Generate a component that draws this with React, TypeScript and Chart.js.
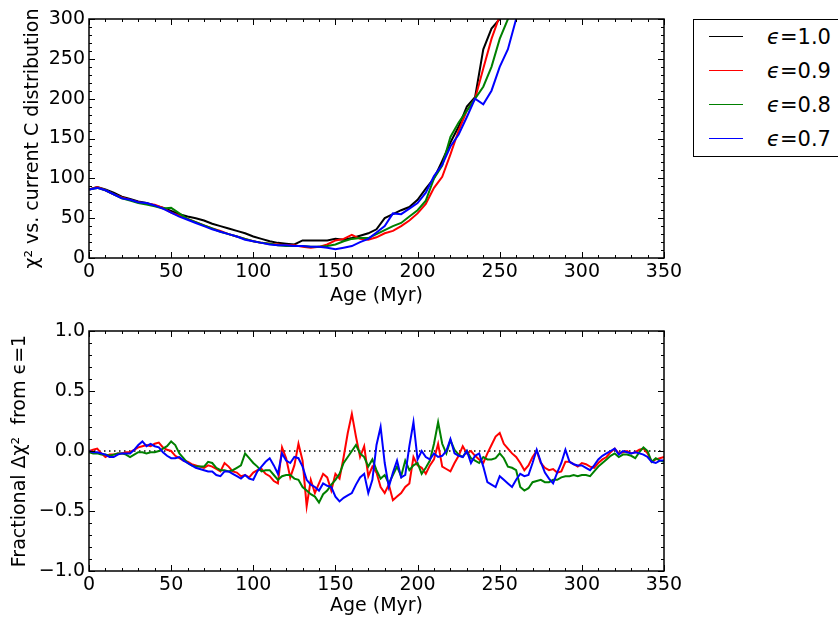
import React, { useEffect, useRef } from "react";
import { Chart, registerables } from "chart.js";

Chart.register(...registerables);

// ---------- DATA ----------
const topAge = [
  0, 5, 10, 15, 20, 25, 30, 35, 40, 45, 50, 55, 60, 65, 70, 75, 80, 85, 90, 95,
  100, 105, 110, 115, 120, 125, 130, 135, 140, 145, 150, 155, 160, 165, 170, 175,
  180, 185, 190, 195, 200, 205, 210, 215, 220, 225, 230, 235, 240, 245, 250, 255, 260,
];
const chiEps10 = [
  86, 89, 86, 82, 77, 74, 71, 69, 66, 63, 59, 55, 52, 50, 47, 43, 40, 37, 34, 31,
  27, 24, 21, 19, 18, 17, 22, 22, 22, 22, 24, 23, 25, 28, 31, 36, 50, 55, 60, 64,
  73, 87, 100, 122, 145, 165, 190, 202, 262, 288, 300, 320, 340,
];
const chiEps09 = [
  86, 89, 85, 80, 76, 73, 70, 68, 67, 63, 57, 53, 49, 45, 41, 37, 34, 30, 27, 24,
  21, 19, 18, 17, 16, 16, 14, 13, 14, 17, 22, 24, 29, 24, 23, 26, 31, 34, 40, 47,
  56, 68, 88, 102, 130, 160, 185, 200, 238, 275, 304, 330, 350,
];
const chiEps08 = [
  86, 88, 85, 80, 75, 72, 69, 67, 65, 62, 63, 56, 49, 45, 41, 37, 33, 30, 27, 24,
  21, 19, 18, 16, 15, 15, 15, 14, 14, 15, 17, 21, 24, 25, 25, 30, 35, 40, 44, 52,
  60, 72, 100, 116, 152, 170, 185, 200, 215, 240, 275, 300, 315,
];
const chiEps07 = [
  86, 88, 85, 80, 75, 73, 70, 69, 66, 62, 57, 52, 48, 44, 40, 36, 33, 30, 27, 23,
  21, 19, 17, 16, 16, 15, 15, 14, 14, 13, 11, 13, 15, 20, 24, 32, 40, 56, 55, 62,
  69, 82, 103, 117, 140, 155, 177, 200, 193, 210, 240, 262, 300,
];

const fracAge = [
  0, 2.5, 5, 7.5, 10, 12.5, 15, 17.5, 20, 22.5,
  25, 27.5, 30, 32.5, 35, 37.5, 40, 42.5, 45, 47.5,
  50, 52.5, 55, 57.5, 60, 62.5, 65, 67.5, 70, 72.5,
  75, 77.5, 80, 82.5, 85, 87.5, 90, 92.5, 95, 97.5,
  100, 102.5, 105, 107.5, 110, 112.5, 115, 117.5, 120, 122.5,
  125, 127.5, 130, 132.5, 135, 137.5, 140, 142.5, 145, 147.5,
  150, 152.5, 155, 157.5, 160, 162.5, 165, 167.5, 170, 172.5,
  175, 177.5, 180, 182.5, 185, 187.5, 190, 192.5, 195, 197.5,
  200, 202.5, 205, 207.5, 210, 212.5, 215, 217.5, 220, 222.5,
  225, 227.5, 230, 232.5, 235, 237.5, 240, 242.5, 245, 247.5,
  250, 252.5, 255, 257.5, 260, 262.5, 265, 267.5, 270, 272.5,
  275, 277.5, 280, 282.5, 285, 287.5, 290, 292.5, 295, 297.5,
  300, 302.5, 305, 307.5, 310, 312.5, 315, 317.5, 320, 322.5,
  325, 327.5, 330, 332.5, 335, 337.5, 340, 342.5, 345, 347.5,
  350,
];
const fracEps10 = [0, 0];
const fracEps10Age = [0, 350];
const fracEps09 = [
  0.00, 0.01, 0.02, -0.02, -0.05, -0.03, -0.03, -0.02, -0.02, -0.01,
  -0.01, 0.01, 0.03, 0.04, 0.05, 0.04, 0.06, 0.07, 0.03, 0.01,
  0.00, -0.04, -0.06, -0.08, -0.09, -0.11, -0.12, -0.13, -0.14, -0.12,
  -0.13, -0.15, -0.17, -0.10, -0.13, -0.17, -0.18, -0.21, -0.20, -0.22,
  -0.18, -0.16, -0.15, -0.19, -0.21, -0.25, -0.27, 0.03, -0.06, -0.22,
  -0.12, 0.06, -0.08, -0.46, -0.24, -0.35, -0.27, -0.19, -0.22, -0.33,
  -0.19, -0.23, -0.05, 0.15, 0.31, 0.12, -0.05, 0.04, -0.21, -0.13,
  -0.18, -0.30, -0.35, -0.28, -0.41, -0.38, -0.35, -0.30, -0.27, -0.05,
  -0.12, -0.14, -0.19, -0.12, -0.07, 0.06, -0.13, -0.15, -0.17, -0.10,
  -0.04, 0.04, -0.02, 0.00, -0.04, -0.07, -0.10, -0.02, 0.05, 0.12,
  0.15, 0.06, 0.02, -0.02, -0.05, -0.10, -0.16, -0.12, -0.05, 0.00,
  -0.10, -0.14, -0.16, -0.15, -0.18, -0.17, -0.09, -0.09, -0.11, -0.13,
  -0.10, -0.11, -0.13, -0.14, -0.10, -0.07, -0.05, -0.01, 0.02, -0.02,
  -0.01, 0.00, -0.02, -0.01, 0.01, 0.02, -0.02, -0.09, -0.07, -0.06,
  -0.05,
];
const fracEps08 = [
  -0.01, -0.02, -0.02, -0.03, -0.03, -0.04, -0.03, -0.02, -0.02, -0.03,
  -0.05, -0.03, -0.01, -0.01, -0.02, -0.01, -0.01, 0.00, 0.02, 0.04,
  0.08, 0.05, -0.02, -0.06, -0.10, -0.12, -0.13, -0.13, -0.13, -0.09,
  -0.10, -0.14, -0.16, -0.16, -0.17, -0.16, -0.14, -0.12, -0.02, -0.06,
  -0.10, -0.13, -0.17, -0.16, -0.16, -0.20, -0.24, -0.21, -0.20, -0.20,
  -0.23, -0.24, -0.30, -0.33, -0.36, -0.38, -0.43, -0.36, -0.33, -0.28,
  -0.24, -0.19, -0.10, -0.05, 0.00, 0.05, -0.02, -0.05, -0.13, -0.07,
  -0.16, -0.23, -0.20, -0.27, -0.20, -0.13, -0.21, -0.08, -0.16, -0.12,
  -0.10, -0.19, -0.14, -0.08, 0.06, 0.24, 0.06, -0.02, 0.09, 0.01,
  -0.03, -0.05, 0.00, -0.06, -0.08, -0.10, -0.05, -0.07, -0.07, -0.06,
  -0.02, -0.06, -0.13, -0.14, -0.16, -0.30, -0.33, -0.31, -0.26, -0.25,
  -0.24, -0.26, -0.26, -0.24, -0.24, -0.22, -0.21, -0.21, -0.20, -0.21,
  -0.20, -0.20, -0.21, -0.17, -0.13, -0.10, -0.07, -0.04, -0.02, -0.05,
  -0.03, -0.03, -0.04, -0.06, -0.01, 0.03, 0.00, -0.09, -0.06, -0.08,
  -0.09,
];
const fracEps07 = [
  0.00, -0.01, -0.01, -0.02, -0.03, -0.05, -0.05, -0.03, -0.02, -0.02,
  -0.02, 0.01, 0.05, 0.08, 0.04, 0.06, 0.04, 0.03, -0.01, -0.04,
  -0.06, -0.06, -0.05, -0.08, -0.10, -0.12, -0.14, -0.15, -0.16, -0.17,
  -0.17, -0.20, -0.21, -0.17, -0.17, -0.19, -0.21, -0.23, -0.20, -0.23,
  -0.24, -0.17, -0.13, -0.09, -0.06, -0.12, -0.19, -0.02, -0.08, -0.10,
  -0.05, -0.06, -0.13, -0.24, -0.28, -0.30, -0.33, -0.27, -0.29, -0.30,
  -0.38, -0.42, -0.39, -0.37, -0.35, -0.28, -0.22, -0.19, -0.35, -0.24,
  0.05, 0.20, -0.10, -0.30, -0.18, -0.08, -0.22, -0.20, 0.04, 0.24,
  -0.07, 0.00, -0.05, -0.07, -0.02, -0.05, -0.04, 0.00, 0.10, -0.02,
  -0.04, -0.05, 0.00, -0.10, -0.04, -0.02, -0.13, -0.26, -0.28, -0.30,
  -0.21, -0.24, -0.27, -0.30, -0.24, -0.19, -0.21, -0.20, -0.10, 0.01,
  -0.09, -0.18, -0.23, -0.27, -0.18, -0.10, 0.01, -0.09, -0.11, -0.12,
  -0.12, -0.14, -0.16, -0.12, -0.07, -0.04, -0.02, 0.00, 0.02, -0.03,
  0.00, -0.01, -0.02, -0.01, -0.02, -0.03, -0.05, -0.09, -0.10, -0.08,
  -0.08,
];

const seriesLabels = ["1.0", "0.9", "0.8", "0.7"];
const seriesColors = ["#000000", "#ff0000", "#008000", "#0000ff"];

// ---------- HELPERS ----------
const FONT = "'DejaVu Sans', 'Liberation Sans', sans-serif";
const FS = 19;
const zip = (xs: number[], ys: number[]) => ys.map((y, i) => ({ x: xs[i], y }));
const fmtMinus = (s: string) => s.replace("-", "\u2212");

const framePlugin = {
  id: "mplFrame",
  afterDraw(chart: any, _args: any, opts: any) {
    const { ctx, chartArea: a, scales } = chart;
    const xs = scales.x;
    const ys = scales.y;
    ctx.save();
    ctx.strokeStyle = "#000";
    ctx.lineWidth = 1;
    const ticks = (min: number, max: number, step: number) => {
      const out: number[] = [];
      const n = Math.round((max - min) / step);
      for (let i = 0; i <= n; i++) out.push(min + i * step);
      return out;
    };
    const drawX = (vals: number[], len: number) => {
      vals.forEach((v) => {
        const p = Math.round(xs.getPixelForValue(v)) + 0.5;
        ctx.beginPath();
        ctx.moveTo(p, a.bottom);
        ctx.lineTo(p, a.bottom - len);
        ctx.moveTo(p, a.top);
        ctx.lineTo(p, a.top + len);
        ctx.stroke();
      });
    };
    const drawY = (vals: number[], len: number) => {
      vals.forEach((v) => {
        const p = Math.round(ys.getPixelForValue(v)) + 0.5;
        ctx.beginPath();
        ctx.moveTo(a.left, p);
        ctx.lineTo(a.left + len, p);
        ctx.moveTo(a.right, p);
        ctx.lineTo(a.right - len, p);
        ctx.stroke();
      });
    };
    drawX(ticks(xs.min, xs.max, opts.xMinor), 3);
    drawX(ticks(xs.min, xs.max, opts.xMajor), 6);
    drawY(ticks(ys.min, ys.max, opts.yMinor), 3);
    drawY(ticks(ys.min, ys.max, opts.yMajor), 6);
    ctx.lineWidth = 1.5;
    ctx.strokeRect(a.left, a.top, a.right - a.left, a.bottom - a.top);
    ctx.restore();
  },
};

function makeOptions(cfg: {
  yMin: number; yMax: number; yStep: number; yMinor: number; top: number;
  yTitle: string; yTitlePad: number; xAxisHeight: number; fmt: (v: number) => string;
}) {
  return {
    responsive: false,
    animation: false,
    events: [],
    layout: { padding: { top: cfg.top, right: 36, left: 0, bottom: 0 } },
    plugins: {
      legend: { display: false },
      tooltip: { enabled: false },
      mplFrame: { xMajor: 50, xMinor: 10, yMajor: cfg.yStep, yMinor: cfg.yMinor },
    },
    scales: {
      x: {
        type: "linear",
        min: 0,
        max: 350,
        grid: { display: false, drawTicks: false },
        border: { display: false },
        ticks: {
          stepSize: 50,
          padding: 3,
          color: "#000",
          font: { family: FONT, size: FS },
          maxRotation: 0,
          callback: (v: number) => String(v),
        },
        title: {
          display: true,
          text: "Age (Myr)",
          color: "#000",
          font: { family: FONT, size: FS },
          padding: { top: 0, bottom: 2.6 },
        },
        afterFit: (s: any) => { s.height = cfg.xAxisHeight; },
      },
      y: {
        type: "linear",
        min: cfg.yMin,
        max: cfg.yMax,
        grid: { display: false, drawTicks: false },
        border: { display: false },
        ticks: {
          stepSize: cfg.yStep,
          padding: 4,
          color: "#000",
          font: { family: FONT, size: FS },
          callback: (v: number) => cfg.fmt(v),
        },
        title: {
          display: true,
          text: cfg.yTitle,
          color: "#000",
          font: { family: FONT, size: FS },
          padding: { top: cfg.yTitlePad, bottom: 0 },
        },
        afterFit: (s: any) => { s.width = 89; },
      },
    },
  } as any;
}

export default function App() {
  const topRef = useRef<HTMLCanvasElement>(null);
  const botRef = useRef<HTMLCanvasElement>(null);

  useEffect(() => {
    const topSeries = [chiEps10, chiEps09, chiEps08, chiEps07];
    const top = new Chart(topRef.current!, {
      type: "line",
      data: {
        datasets: topSeries.map((vals, i) => ({
          label: "\u03f5=" + seriesLabels[i],
          data: zip(topAge, vals),
          borderColor: seriesColors[i],
          borderWidth: 2,
          pointRadius: 0,
          tension: 0,
          fill: false,
          order: 4 - i,
        })),
      },
      options: makeOptions({
        yMin: 0, yMax: 300, yStep: 50, yMinor: 10, top: 19,
        yTitle: "\u03c7\u00b2 vs. current C distribution", yTitlePad: 21.6,
        xAxisHeight: 52,
        fmt: (v) => String(Math.round(v)),
      }),
      plugins: [framePlugin],
    });

    const botSeries = [fracEps09, fracEps08, fracEps07];
    const bot = new Chart(botRef.current!, {
      type: "line",
      data: {
        datasets: [
          {
            label: "\u03f5=1.0",
            data: zip(fracEps10Age, fracEps10),
            borderColor: "#000",
            borderWidth: 1.5,
            borderDash: [1.5, 3.5],
            pointRadius: 0,
            fill: false,
            order: 5,
          },
          ...botSeries.map((vals, i) => ({
            label: "\u03f5=" + seriesLabels[i + 1],
            data: zip(fracAge, vals),
            borderColor: seriesColors[i + 1],
            borderWidth: 2,
            pointRadius: 0,
            tension: 0,
            fill: false,
            order: 3 - i,
          })),
        ],
      },
      options: makeOptions({
        yMin: -1, yMax: 1, yStep: 0.5, yMinor: 0.1, top: 21,
        yTitle: "Fractional \u0394\u03c7\u00b2  from \u03f5=1", yTitlePad: 8.6,
        xAxisHeight: 49,
        fmt: (v) => fmtMinus(v.toFixed(1)),
      }),
      plugins: [framePlugin],
    });

    return () => {
      top.destroy();
      bot.destroy();
    };
  }, []);

  const legendRows = seriesLabels.map((lab, i) => (
    <div
      key={lab}
      style={{ position: "absolute", left: 0, top: 37 + i * 34 - 19 - 1.5, width: 200, height: 0 }}
    >
      <div
        style={{
          position: "absolute",
          left: 15,
          top: -0.5,
          width: 34,
          height: 1.2,
          background: seriesColors[i],
        }}
      />
      <div
        style={{
          position: "absolute",
          left: 73,
          top: -14,
          height: 28,
          lineHeight: "28px",
          fontFamily: FONT,
          fontSize: 21,
          color: "#000",
          whiteSpace: "nowrap",
        }}
      >
        <i>{"\u03f5"}</i>={lab}
      </div>
    </div>
  ));

  return (
    <div
      style={{
        position: "fixed",
        left: 0,
        top: 0,
        width: 838,
        height: 620,
        overflow: "hidden",
        background: "#fff",
      }}
    >
      <canvas
        ref={topRef}
        width={700}
        height={310}
        style={{ position: "absolute", left: 0, top: 0, width: 700, height: 310 }}
      />
      <canvas
        ref={botRef}
        width={700}
        height={310}
        style={{ position: "absolute", left: 0, top: 310, width: 700, height: 310 }}
      />
      <div
        style={{
          position: "absolute",
          left: 693,
          top: 19,
          width: 170,
          height: 138,
          border: "1.5px solid #000",
          boxSizing: "border-box",
          background: "#fff",
        }}
      >
        {legendRows}
      </div>
    </div>
  );
}
